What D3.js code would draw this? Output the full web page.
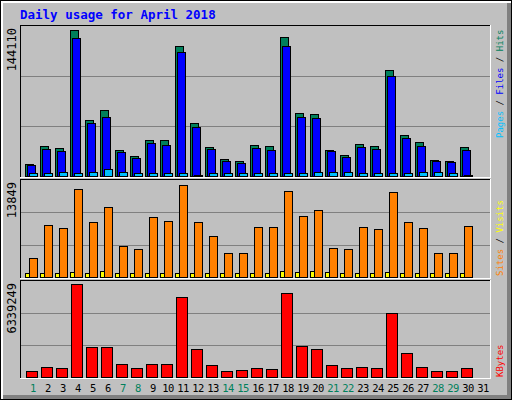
<!DOCTYPE html>
<html><head><meta charset="utf-8">
<script src="https://cdn.jsdelivr.net/npm/d3@7"></script>
<style>body{margin:0;background:#fff}text{font-family:"DejaVu Sans Mono",monospace}</style>
</head><body><svg width="512" height="400"></svg>
<script>
var days = d3.range(1, 32);
var weekends = [1, 7, 8, 14, 15, 21, 22, 28, 29];
var hits = [11760,29400,27440,144110,54880,64680,25480,19600,35280,35280,128380,51940,28420,16660,14700,30380,29400,137200,61740,60760,25480,20580,31360,29400,103880,40180,33320,15680,14700,28420,0];
var files = [10780,26460,24500,136220,51940,57820,23520,17640,32340,30380,121520,48020,26460,14700,12740,27440,25480,128380,57820,56840,24500,18620,28420,26460,98000,37240,29400,14700,13720,25480,0];
var pages = [2500,2500,4000,2500,4000,6500,4000,2500,2500,2500,2500,500,2500,2500,2500,2500,2500,2500,2500,4000,4000,4000,2500,2500,2500,2500,4000,4000,2500,500,0];
var visits = [2820,7810,7350,13240,8260,10520,4640,4180,9010,8410,13849,8260,6150,3580,3580,7500,7500,12940,9170,10070,4330,4180,7500,7200,12790,8260,7350,3580,3580,7660,0];
var sites = [550,550,550,700,550,860,550,550,550,550,550,550,550,550,550,550,550,860,700,860,700,550,550,550,700,550,550,550,550,550,0];
var kbytes = [438000,714600,645500,6339249,2028600,2028600,852900,645500,852900,852900,5417200,1890300,783800,438000,507100,645500,576300,5693800,2097700,1890300,783800,645500,714600,645500,4379900,1613600,714600,438000,438000,645500,0];

var svg = d3.select('svg');
var left = 20, right = 490;

// frame
svg.append('rect').attr('x', 0.5).attr('y', 0.5).attr('width', 511).attr('height', 399).attr('fill', '#c0c0c0').attr('stroke', '#000');
svg.append('rect').attr('x', 1).attr('y', 1).attr('width', 510).attr('height', 2).attr('fill', '#fff');
svg.append('rect').attr('x', 1).attr('y', 1).attr('width', 2).attr('height', 398).attr('fill', '#fff');
svg.append('rect').attr('x', 507).attr('y', 3).attr('width', 4).attr('height', 396).attr('fill', '#808080');
svg.append('rect').attr('x', 3).attr('y', 395).attr('width', 508).attr('height', 4).attr('fill', '#808080');

svg.append('text').text('Daily usage for April 2018')
  .attr('x', 20).attr('y', 19).attr('fill', '#0000ff')
  .attr('font-size', 12.5).attr('font-weight', 'bold');

var x = d3.scaleBand().domain(days).range([25.5, 490.5]);
var cx = function(i) { return x(days[i]) + x.bandwidth() / 2; };

var panels = [
  {top: 25, bottom: 177, max: 144110, fill: 0.97, label: '144110', sideY: 138,
   series: [{d: hits, c: '#00805c', o: -8, w: 8}, {d: files, c: '#0000ff', o: -6, w: 8}, {d: pages, c: '#00c0ff', o: -4, w: 8}],
   side: [['Pages', '#00c0ff'], [' / ', '#000'], ['Files', '#0000ff'], [' / ', '#000'], ['Hits', '#00805c']]},
  {top: 179, bottom: 278, max: 13849, fill: 0.94, label: '13849', sideY: 276,
   series: [{d: sites, c: '#ffff00', o: -8, w: 4}, {d: visits, c: '#ff8000', o: -4, w: 8}],
   side: [['Sites', '#ff8000'], [' / ', '#000'], ['Visits', '#ffff00']]},
  {top: 280, bottom: 378, max: 6339249, fill: 0.96, label: '6339249', sideY: 377,
   series: [{d: kbytes, c: '#ff0000', o: -7, w: 11}],
   side: [['KBytes', '#ff0000']]}
];

panels.forEach(function(p) {
  var base = p.bottom - 1;
  var y = d3.scaleLinear().domain([0, p.max / p.fill]).range([base, p.top]);
  var h = p.bottom - p.top;
  [1, 2].forEach(function(k) {
    svg.append('line').attr('x1', left).attr('x2', right)
      .attr('y1', Math.round(p.bottom - h * k / 3) + 0.5).attr('y2', Math.round(p.bottom - h * k / 3) + 0.5)
      .attr('stroke', '#808080');
  });
  p.series.forEach(function(s) {
    svg.append('g').selectAll('rect').data(s.d.slice(0, 30)).enter().append('rect')
      .attr('x', function(v, i) { return Math.round(cx(i)) + s.o + 0.5; })
      .attr('y', function(v) { return Math.round(y(v)) + 0.5; })
      .attr('width', s.w)
      .attr('height', function(v) { return Math.max(0, Math.round(base - y(v))); })
      .attr('fill', s.c).attr('stroke', '#000');
  });
  svg.append('line').attr('x1', left).attr('x2', right + 1).attr('y1', p.top + 0.5).attr('y2', p.top + 0.5).attr('stroke', '#000');
  svg.append('line').attr('x1', left + 0.5).attr('x2', left + 0.5).attr('y1', p.top).attr('y2', p.bottom).attr('stroke', '#000');
  svg.append('line').attr('x1', right + 0.5).attr('x2', right + 0.5).attr('y1', p.top).attr('y2', p.bottom + 1).attr('stroke', '#fff');
  svg.append('line').attr('x1', left).attr('x2', right + 1).attr('y1', p.bottom + 0.5).attr('y2', p.bottom + 0.5).attr('stroke', '#fff');

  svg.append('text').text(p.label)
    .attr('transform', 'translate(16,' + (p.top + 3) + ') rotate(-90)')
    .attr('text-anchor', 'end').attr('font-size', 12).attr('fill', '#000');

  var t = svg.append('text')
    .attr('transform', 'translate(503,' + p.sideY + ') rotate(-90)')
    .attr('font-size', 9);
  p.side.forEach(function(s) { t.append('tspan').text(s[0]).attr('fill', s[1]); });
});

svg.append('g').selectAll('text').data(days).enter().append('text')
  .text(function(d) { return d; })
  .attr('x', function(d, i) { return cx(i); })
  .attr('y', 392).attr('text-anchor', 'middle').attr('font-size', 10.5)
  .attr('letter-spacing', -0.5)
  .attr('fill', function(d) { return weekends.indexOf(d) >= 0 ? '#00805c' : '#000'; });
</script></body></html>
